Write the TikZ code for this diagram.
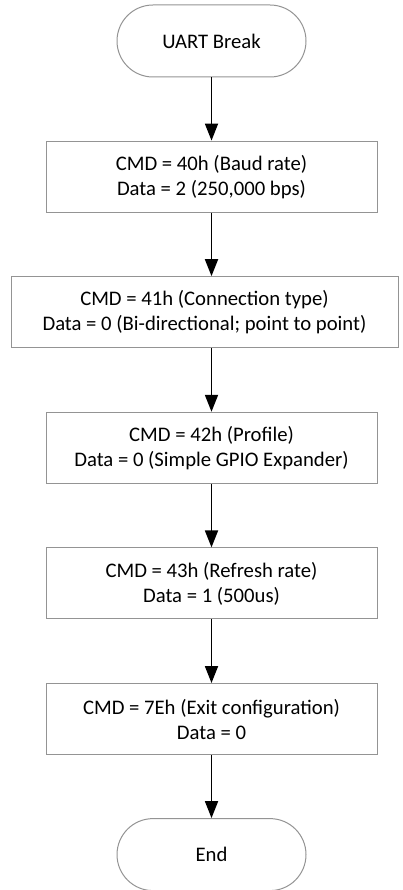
\documentclass[tikz,border=0pt]{standalone}
\usepackage{fontspec}
\setmainfont{Carlito}
\usetikzlibrary{arrows.meta,shapes.misc}
\begin{document}
\begin{tikzpicture}[x=1pt,y=-1pt,
 box/.style={draw=black!42, line width=1pt, minimum width=331pt, minimum height=71pt, align=center, font=\fontsize{20.7}{25}\selectfont, inner sep=0pt, fill=white},
 term/.style={box, rounded rectangle, minimum width=189pt, minimum height=72pt},
 arr/.style={-{Triangle[length=17pt,width=13pt]}, line width=1.8pt}]
\useasboundingbox (0,0) rectangle (403,890);
\node[term] (start) at (211.5,41) {UART Break};
\node[box] (b1) at (211.5,176.6) {CMD = 40h (Baud rate)\\Data = 2 (250,000 bps)};
\node[box, minimum width=387pt] (b2) at (204.5,312.2) {CMD = 41h (Connection type)\\Data = 0 (Bi-directional; point to point)};
\node[box] (b3) at (211.5,447.8) {CMD = 42h (Profile)\\Data = 0 (Simple GPIO Expander)};
\node[box] (b4) at (211.5,583.4) {CMD = 43h (Refresh rate)\\Data = 1 (500us)};
\node[box] (b5) at (211.5,719) {CMD = 7Eh (Exit configuration)\\Data = 0};
\node[term] (end) at (211.5,854.6) {End};
\draw[arr] (start.south) -- (b1.north);
\draw[arr] (b1.south) -- (b1.south |- b2.north);
\draw[arr] (b1.south |- b2.south) -- (b3.north);
\draw[arr] (b3.south) -- (b4.north);
\draw[arr] (b4.south) -- (b5.north);
\draw[arr] (b5.south) -- (end.north);
\end{tikzpicture}
\end{document}
